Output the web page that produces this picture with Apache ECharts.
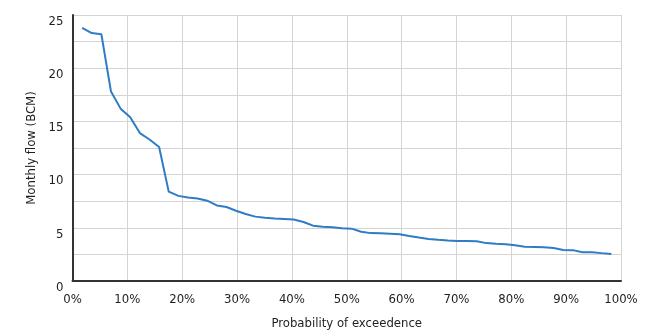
<!DOCTYPE html>
<html>
<head>
<meta charset="utf-8">
<script src="https://cdn.jsdelivr.net/npm/echarts@6/dist/echarts.min.js"></script>
<style>html,body{margin:0;padding:0;background:#fff;}#c{width:656px;height:332px;}</style>
</head>
<body>
<div id="c"></div>
<script>
// Probability of exceedence (%) for each ranked month
const exceedance = [1.75, 3.51, 5.26, 7.02, 8.77, 10.53, 12.28, 14.04, 15.79, 17.54,
  19.30, 21.05, 22.81, 24.56, 26.32, 28.07, 29.82, 31.58, 33.33, 35.09,
  36.84, 38.60, 40.35, 42.11, 43.86, 45.61, 47.37, 49.12, 50.88, 52.63,
  54.39, 56.14, 57.89, 59.65, 61.40, 63.16, 64.91, 66.67, 68.42, 70.18,
  71.93, 73.68, 75.44, 77.19, 78.95, 80.70, 82.46, 84.21, 85.96, 87.72,
  89.47, 91.23, 92.98, 94.74, 96.49, 98.25];
// Monthly flow (BCM)
const flow = [23.8, 23.3, 23.2, 17.8, 16.2, 15.4, 13.9, 13.3, 12.6, 8.4,
  8.0, 7.85, 7.75, 7.55, 7.1, 6.95, 6.6, 6.3, 6.05, 5.95,
  5.88, 5.83, 5.78, 5.55, 5.2, 5.1, 5.05, 4.95, 4.92, 4.63,
  4.5, 4.48, 4.45, 4.39, 4.22, 4.08, 3.95, 3.87, 3.8, 3.76,
  3.75, 3.73, 3.56, 3.5, 3.45, 3.35, 3.22, 3.2, 3.17, 3.1,
  2.92, 2.9, 2.7, 2.7, 2.62, 2.54];
const xTitle = 'Probability of exceedence';
const yTitle = 'Monthly flow (BCM)';

const FONT = '"Liberation Sans Narrow", "DejaVu Sans Condensed", "Roboto", sans-serif';
const TXT = '#1e1e1e';
const chart = echarts.init(document.getElementById('c'), null, {renderer: 'canvas'});
chart.setOption({
  animation: false,
  grid: {left: 72.5, right: 35, top: 15, bottom: 51, containLabel: false, outerBoundsMode: 'none'},
  xAxis: {
    type: 'value', min: 0, max: 100, interval: 10,
    name: xTitle, nameLocation: 'middle', nameGap: 36,
    nameTextStyle: {fontFamily: FONT, fontSize: 13, color: TXT},
    axisLine: {show: true, onZero: false, lineStyle: {color: '#333', width: 2}},
    axisTick: {show: false},
    axisLabel: {fontFamily: FONT, fontSize: 13, color: TXT, margin: 12, formatter: v => v + '%'},
    splitLine: {show: true, lineStyle: {color: '#d4d4d4', width: 1}}
  },
  yAxis: {
    type: 'value', min: 0, max: 25, interval: 2.5,
    name: yTitle, nameLocation: 'middle', nameGap: 33,
    nameTextStyle: {fontFamily: FONT, fontSize: 13, color: TXT},
    axisLine: {show: true, lineStyle: {color: '#333', width: 2}},
    axisTick: {show: false},
    axisLabel: {fontFamily: FONT, fontSize: 13, color: TXT, margin: 9, verticalAlign: 'top',
      formatter: v => (v % 5 === 0 ? String(v) : '')},
    splitLine: {show: true, lineStyle: {color: '#d4d4d4', width: 1}}
  },
  series: [{
    type: 'line',
    data: exceedance.map((p, i) => [p, flow[i]]),
    showSymbol: false,
    lineStyle: {color: '#2f7bc6', width: 2},
    itemStyle: {color: '#2f7bc6'}
  }]
});
</script>
</body>
</html>
